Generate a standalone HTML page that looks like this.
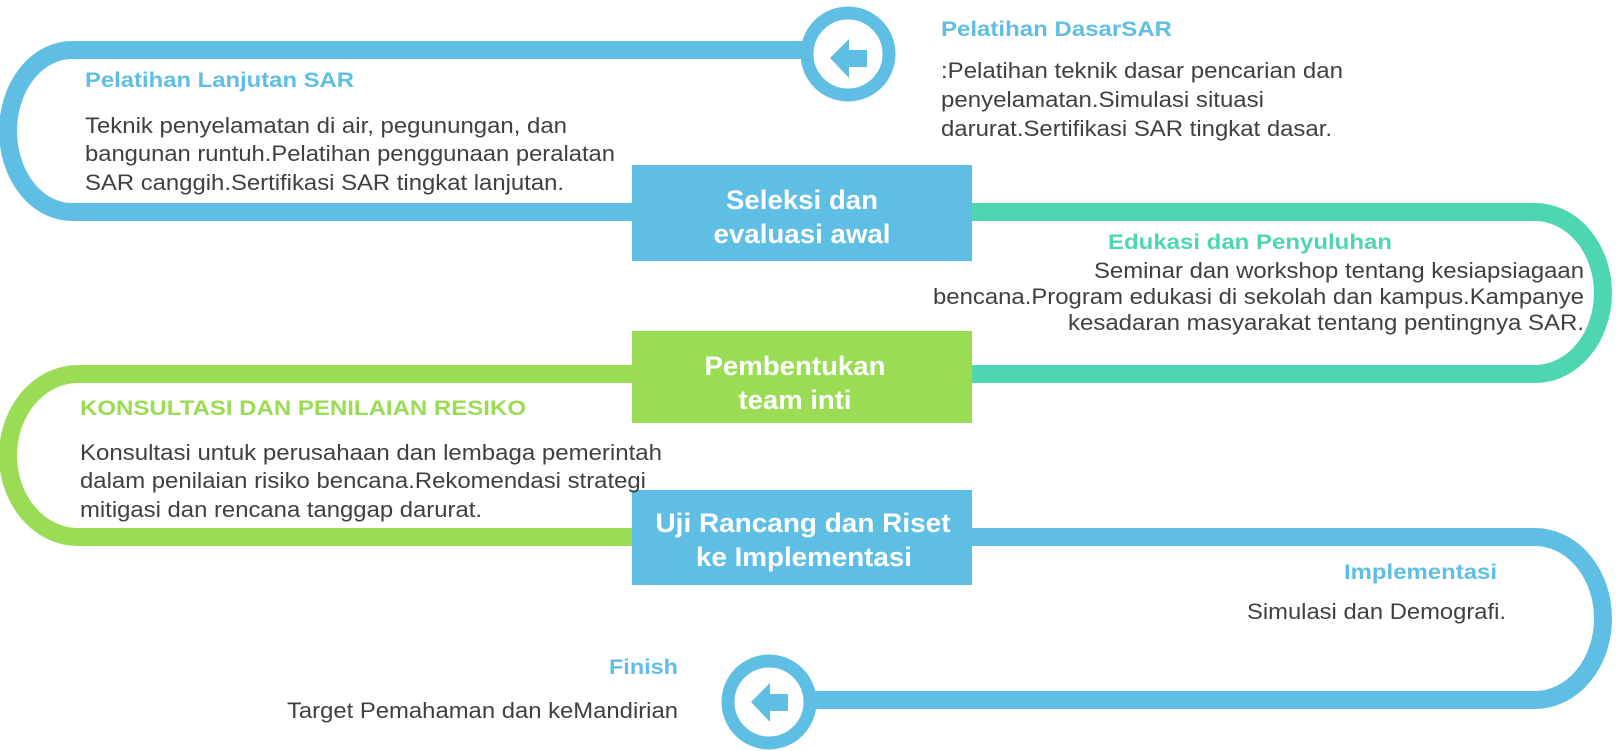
<!DOCTYPE html>
<html><head><meta charset="utf-8"><style>
html,body{margin:0;padding:0;background:#fff}
svg{display:block}
text{font-family:"Liberation Sans",sans-serif}
.t{font-weight:bold;font-size:21px}
.b{fill:#404040;font-size:22.5px}
.w{fill:#fff;font-weight:bold;font-size:26.5px;text-anchor:middle}
</style></head><body>
<svg width="1618" height="751" viewBox="0 0 1618 751" xmlns="http://www.w3.org/2000/svg">
<g fill="none" stroke-width="18">
<path d="M848 50 L72 50 A64 81 0 0 0 72 212 L640 212" stroke="#5fbee3"/>
<path d="M965 212 L1535 212 A68 81 0 0 1 1535 374 L965 374" stroke="#4dd6b0"/>
<path d="M640 374 L78 374 A70 81.5 0 0 0 78 537 L640 537" stroke="#9bdc55"/>
<path d="M965 537 L1535 537 A68 81.5 0 0 1 1535 700 L769 700" stroke="#5fbee3"/>
</g>
<circle cx="848" cy="54" r="41" fill="#fff" stroke="#5fbee3" stroke-width="13"/>
<polygon points="830,58 849,39 849,50 867,50 867,67 849,67 849,78" fill="#5fbee3"/>
<circle cx="769" cy="702" r="41" fill="#fff" stroke="#5fbee3" stroke-width="13"/>
<polygon points="751,702 770,683 770,694 788,694 788,711 770,711 770,722" fill="#5fbee3"/>
<rect x="632" y="165" width="340" height="96" fill="#5fbee3"/>
<rect x="632" y="331" width="340" height="92" fill="#9bdc55"/>
<rect x="632" y="490" width="340" height="95" fill="#5fbee3"/>
<text class="w" x="802" y="209" textLength="152" lengthAdjust="spacingAndGlyphs">Seleksi dan</text>
<text class="w" x="802" y="243" textLength="177" lengthAdjust="spacingAndGlyphs">evaluasi awal</text>
<text class="w" x="795" y="375" textLength="181" lengthAdjust="spacingAndGlyphs">Pembentukan</text>
<text class="w" x="795" y="409" textLength="113" lengthAdjust="spacingAndGlyphs">team inti</text>
<text class="w" x="803" y="532" textLength="295" lengthAdjust="spacingAndGlyphs">Uji Rancang dan Riset</text>
<text class="w" x="804" y="566" textLength="216" lengthAdjust="spacingAndGlyphs">ke Implementasi</text>

<text class="t" fill="#5fbee3" x="941" y="36" textLength="231" lengthAdjust="spacingAndGlyphs">Pelatihan DasarSAR</text>
<text class="b" x="941" y="78" textLength="402" lengthAdjust="spacingAndGlyphs">:Pelatihan teknik dasar pencarian dan</text>
<text class="b" x="941" y="107" textLength="323" lengthAdjust="spacingAndGlyphs">penyelamatan.Simulasi situasi</text>
<text class="b" x="941" y="136" textLength="391" lengthAdjust="spacingAndGlyphs">darurat.Sertifikasi SAR tingkat dasar.</text>

<text class="t" fill="#5fbee3" x="85" y="87" textLength="269" lengthAdjust="spacingAndGlyphs">Pelatihan Lanjutan SAR</text>
<text class="b" x="85" y="133" textLength="482" lengthAdjust="spacingAndGlyphs">Teknik penyelamatan di air, pegunungan, dan</text>
<text class="b" x="85" y="161" textLength="530" lengthAdjust="spacingAndGlyphs">bangunan runtuh.Pelatihan penggunaan peralatan</text>
<text class="b" x="85" y="190" textLength="479" lengthAdjust="spacingAndGlyphs">SAR canggih.Sertifikasi SAR tingkat lanjutan.</text>

<text class="t" fill="#4dd6b0" x="1108" y="249" textLength="284" lengthAdjust="spacingAndGlyphs">Edukasi dan Penyuluhan</text>
<text class="b" x="1094" y="278" textLength="490" lengthAdjust="spacingAndGlyphs">Seminar dan workshop tentang kesiapsiagaan</text>
<text class="b" x="933" y="304" textLength="651" lengthAdjust="spacingAndGlyphs">bencana.Program edukasi di sekolah dan kampus.Kampanye</text>
<text class="b" x="1068" y="330" textLength="516" lengthAdjust="spacingAndGlyphs">kesadaran masyarakat tentang pentingnya SAR.</text>

<text class="t" fill="#9bdc55" x="80" y="415" textLength="446" lengthAdjust="spacingAndGlyphs">KONSULTASI DAN PENILAIAN RESIKO</text>
<text class="b" x="80" y="460" textLength="582" lengthAdjust="spacingAndGlyphs">Konsultasi untuk perusahaan dan lembaga pemerintah</text>
<text class="b" x="80" y="488" textLength="566" lengthAdjust="spacingAndGlyphs">dalam penilaian risiko bencana.Rekomendasi strategi</text>
<text class="b" x="80" y="517" textLength="402" lengthAdjust="spacingAndGlyphs">mitigasi dan rencana tanggap darurat.</text>

<text class="t" fill="#5fbee3" x="1344" y="579" textLength="153" lengthAdjust="spacingAndGlyphs">Implementasi</text>
<text class="b" x="1247" y="619" textLength="259" lengthAdjust="spacingAndGlyphs">Simulasi dan Demografi.</text>

<text class="t" fill="#5fbee3" x="609" y="674" textLength="69" lengthAdjust="spacingAndGlyphs">Finish</text>
<text class="b" x="287" y="718" textLength="391" lengthAdjust="spacingAndGlyphs">Target Pemahaman dan keMandirian</text>
</svg>
</body></html>
